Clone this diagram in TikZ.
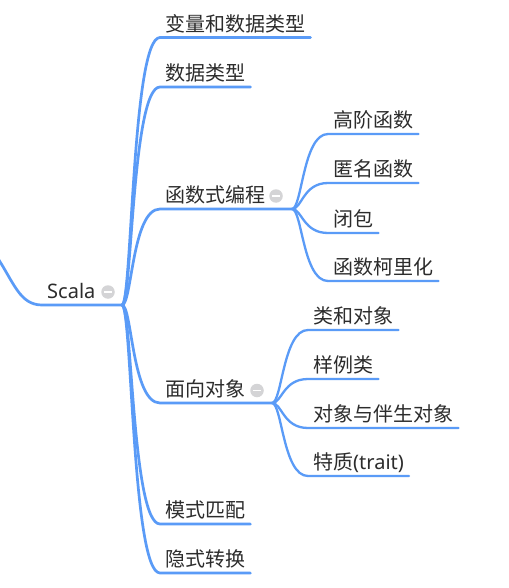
\documentclass[tikz,border=0pt]{standalone}
\usepackage{fontspec}
\setmainfont{Noto Sans CJK SC}
\newfontfamily\latinf{Noto Sans}
\definecolor{lineblue}{HTML}{5A9BF7}
\definecolor{txt}{HTML}{2C2C2C}
\definecolor{mgray}{HTML}{D4D4D6}
\tikzset{
  topic/.style={anchor=south west, inner xsep=5pt, inner ysep=3pt,
    text height=15pt, text depth=3pt, text=txt,
    font=\fontsize{20}{24}\selectfont},
  conna/.style={draw=lineblue, line width=2.7pt, line cap=round, line join=round},
  connb/.style={draw=lineblue, line width=2.3pt, line cap=round, line join=round},
  minus/.style={circle, fill=mgray, minimum size=13.5pt, inner sep=0pt,
    path picture={\draw[white, line width=1.9pt]
      ([xshift=-3.8pt]path picture bounding box.center) --
      ([xshift=3.8pt]path picture bounding box.center);}}
}
\begin{document}
\begin{tikzpicture}[x=1pt,y=-1pt]
\fill[white] (0,0) rectangle (508,588);
\useasboundingbox (0,0) rectangle (508,588);

% root
\coordinate (rootin) at (-3,257);
\node[topic, font=\latinf\fontsize{20}{24}\selectfont] (scala) at (42,305) {Scala};
\node[minus] (scalam) at (108,292) {};
\coordinate (jroot) at (122,305);

% level 1
\node[topic] (t1) at (160,37.5) {变量和数据类型};
\node[topic] (t2) at (160,87) {数据类型};
\node[topic] (fp) at (160,209) {函数式编程};
\node[minus] (fpm) at (276,196) {};
\coordinate (jfp) at (292,209);
\node[topic] (oo) at (160,403) {面向对象};
\node[minus] (oom) at (257,390.5) {};
\coordinate (joo) at (272,403);
\node[topic] (pm) at (160,524) {模式匹配};
\node[topic] (ic) at (160,573) {隐式转换};

% level 2 (functional)
\node[topic] (f1) at (328,134) {高阶函数};
\node[topic] (f2) at (328,183) {匿名函数};
\node[topic] (f3) at (328,233) {闭包};
\node[topic] (f4) at (328,281) {函数柯里化};

% level 2 (objects)
\node[topic] (o1) at (308,330) {类和对象};
\node[topic] (o2) at (308,379) {样例类};
\node[topic] (o3) at (308,428) {对象与伴生对象};
\node[topic] (o4) at (308,476) {特质{\latinf (trait)}};

% connectors
\draw[conna] (rootin) .. controls (14,283) and (20,305) .. (scala.south west) -- (jroot);
\foreach \n in {t1,t2,pm,ic}
  \draw[conna] (jroot) .. controls +(10,0) and +(-28,0) .. (\n.south west) -- (\n.south east);
\draw[conna] (jroot) .. controls +(10,0) and +(-28,0) .. (fp.south west) -- (jfp);
\draw[conna] (jroot) .. controls +(10,0) and +(-28,0) .. (oo.south west) -- (joo);
\foreach \n in {f1,f2,f3,f4}
  \draw[connb] (jfp) .. controls +(10,0) and +(-25,0) .. (\n.south west) -- (\n.south east);
\foreach \n in {o1,o2,o3,o4}
  \draw[connb] (joo) .. controls +(10,0) and +(-25,0) .. (\n.south west) -- (\n.south east);
\end{tikzpicture}
\end{document}
